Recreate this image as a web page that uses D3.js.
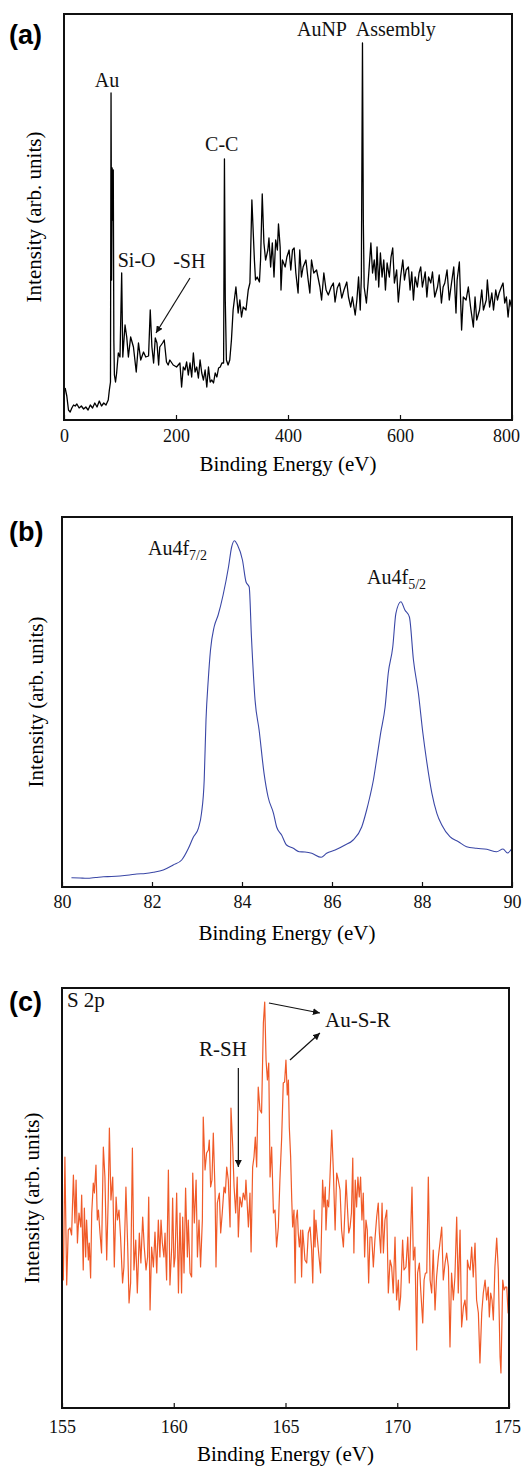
<!DOCTYPE html>
<html>
<head>
<meta charset="utf-8">
<script src="https://cdn.jsdelivr.net/npm/d3@7"></script>
<style>
  body { margin: 0; background: #fff; }
</style>
</head>
<body>
<svg id="chart" width="523" height="1467"></svg>
<script>
'use strict'

// (a) survey spectrum: [binding energy eV, intensity arb.]
const surveyData = [
  [2,32],[5,24],[8,10],[11,8],[14,12],[17,15],[20,14],[23,16],[27,12],[31,14],[35,11],[39,13],[43,10],[47,15],[51,12],[55,17],
  [59,13],[63,19],[67,14],[71,17],[75,15],[79,20],[81,30],[83,38],[84,327],[85,140],[86,252],[87,200],[88,250],[89,80],[90,45],
  [92,38],[94,47],[97,67],[100,63],[103,147],[105,63],[109,95],[112,83],[115,63],[119,83],[124,73],[129,48],[133,77],[137,60],
  [142,68],[146,63],[151,64],[154,110],[157,73],[160,57],[163,82],[166,77],[169,55],[171,73],[176,77],[179,80],[183,58],[186,55],
  [189,60],[195,55],[201,53],[207,57],[210,33],[213,53],[216,50],[219,58],[222,45],[225,57],[228,43],[231,67],[234,48],[237,53],
  [240,42],[243,60],[246,47],[249,40],[252,50],[255,33],[258,53],[261,38],[264,40],[267,37],[270,47],[273,43],[276,52],[279,53],
  [282,57],[285,57],[286.5,261],[288,120],[290,60],[293,55],[296,60],[299,80],[302,110],[307,133],[311,107],[314,120],[317,103],
  [320,113],[325,110],[329,130],[332,137],[335.5,220],[340,160],[342,140],[345,143],[349,138],[351,160],[354,226],[357,177],
  [360,160],[364,170],[366,182],[369,153],[372,177],[375,143],[378,180],[381,170],[383,196],[386,173],[387.5,130],[390,160],
  [395,153],[398,163],[402,170],[405,150],[408,170],[411,172],[414,147],[418,127],[421,170],[424,143],[427,153],[432,160],
  [436,140],[439,127],[442,160],[446,147],[451,150],[457,133],[460,120],[464,147],[468,130],[472,125],[477,133],[481,137],
  [484,118],[488,132],[492,137],[496,122],[500,130],[505,138],[508,123],[512,113],[515,123],[520,105],[523,120],[526,143],
  [529,110],[531,143],[533,377],[534.5,200],[536,133],[540,117],[543,137],[548,177],[551,147],[554,160],[557,140],[559,173],
  [562,133],[565,167],[568,143],[571,160],[574,130],[577,157],[581,143],[584,163],[587,172],[590,137],[594,150],[597,118],
  [601,143],[605,160],[608,140],[611,150],[615,153],[618,130],[621,148],[624,120],[627,143],[631,133],[634,147],[637,153],
  [640,133],[645,148],[648,123],[651,143],[655,137],[658,148],[662,123],[667,133],[670,145],[674,117],[677,133],[680,137],
  [684,150],[688,120],[692,137],[696,153],[700,107],[702,140],[706,158],[710,90],[713,123],[718,120],[722,133],[726,113],
  [731,93],[734,123],[737,100],[742,110],[746,130],[749,110],[754,120],[756,140],[760,113],[764,127],[767,110],[771,130],
  [774,120],[777,127],[781,133],[784,137],[787,117],[790,123],[793,103],[796,120],[799,113]
]

// (b) Au 4f region
const au4fData = [
  [80.21,9.3],[80.4,9],[80.55,8.7],[80.75,9.5],[80.92,10.3],[81.1,10.5],[81.29,11],[81.5,12],[81.66,13],[81.85,13.5],
  [82.03,14.7],[82.25,17],[82.47,22],[82.66,27],[82.81,38.7],[82.92,50],[83.03,58.7],[83.1,73.7],[83.16,107],[83.2,167],
  [83.25,207],[83.3,237],[83.38,260],[83.47,272],[83.58,292],[83.7,320],[83.77,340],[83.83,346.3],[83.9,342],[84.01,327],
  [84.09,305],[84.16,300],[84.21,250],[84.29,187],[84.38,157],[84.49,113.7],[84.58,90],[84.7,73.7],[84.77,60],[84.88,52],
  [84.99,42],[85.14,38.7],[85.27,35.3],[85.4,35],[85.55,33.7],[85.76,29.7],[85.88,33.7],[86.07,37],[86.29,42],[86.47,47],
  [86.66,60],[86.77,77],[86.84,90],[86.92,107],[86.99,127],[87.08,153.7],[87.18,180],[87.25,213.7],[87.35,240],[87.42,273.7],
  [87.53,285.3],[87.62,277],[87.72,270],[87.81,227],[87.92,193.7],[88.02,153.7],[88.1,127],[88.22,93.7],[88.33,73.7],
  [88.44,62],[88.62,50.3],[88.81,45.3],[88.99,40.3],[89.21,38.7],[89.44,37.7],[89.66,35.3],[89.8,38],[89.9,34],[90,38.7]
]

// (c) S 2p region
const s2pData = [
  [155.0,155],[155.06,128],[155.13,251],[155.21,123],[155.28,178],[155.36,180],[155.43,173],[155.51,233],[155.58,185],
  [155.63,228],[155.69,165],[155.76,195],[155.84,181],[155.88,213],[155.95,138],[156.0,200],[156.06,151],[156.1,188],
  [156.18,148],[156.22,165],[156.28,130],[156.33,195],[156.4,225],[156.45,215],[156.52,243],[156.58,188],[156.63,198],
  [156.7,175],[156.77,155],[156.85,261],[156.92,231],[157.0,148],[157.07,211],[157.12,280],[157.19,208],[157.27,231],
  [157.34,141],[157.42,211],[157.48,188],[157.55,198],[157.62,171],[157.71,125],[157.77,141],[157.86,221],[157.94,161],
  [158.0,105],[158.07,125],[158.15,260],[158.22,138],[158.3,168],[158.37,115],[158.46,175],[158.53,145],[158.61,191],
  [158.68,161],[158.76,138],[158.83,151],[158.88,211],[158.94,98],[159.01,161],[159.09,141],[159.16,176],[159.24,135],
  [159.31,188],[159.38,151],[159.43,188],[159.49,165],[159.56,151],[159.61,175],[159.68,128],[159.76,238],[159.83,123],
  [159.91,161],[159.95,210],[160.01,141],[160.06,151],[160.13,215],[160.21,115],[160.28,195],[160.35,115],[160.4,191],
  [160.46,135],[160.53,220],[160.61,151],[160.65,188],[160.73,135],[160.8,131],[160.85,235],[160.92,185],[161.0,228],
  [161.06,151],[161.13,188],[161.2,141],[161.28,188],[161.32,291],[161.4,238],[161.47,255],[161.55,258],[161.59,268],
  [161.65,221],[161.71,228],[161.77,275],[161.85,215],[161.89,141],[161.95,205],[162.04,215],[162.1,175],[162.17,195],
  [162.25,221],[162.31,215],[162.37,241],[162.44,228],[162.52,181],[162.56,300],[162.64,261],[162.7,221],[162.77,195],
  [162.84,231],[162.89,171],[162.96,211],[163.04,201],[163.11,215],[163.19,208],[163.23,228],[163.34,181],[163.41,215],
  [163.46,156],[163.53,241],[163.59,251],[163.65,271],[163.71,241],[163.78,321],[163.86,298],[163.93,295],[164.01,385],
  [164.07,406],[164.13,348],[164.19,328],[164.25,345],[164.31,231],[164.38,261],[164.46,195],[164.53,198],[164.6,161],
  [164.68,181],[164.75,228],[164.83,271],[164.9,325],[164.96,326],[165.02,348],[165.08,313],[165.13,328],[165.17,281],
  [165.23,251],[165.28,208],[165.32,181],[165.38,198],[165.43,125],[165.47,188],[165.53,198],[165.57,175],[165.62,161],
  [165.68,178],[165.72,131],[165.77,178],[165.83,161],[165.87,148],[165.95,145],[166.02,175],[166.1,181],[166.17,158],
  [166.22,125],[166.28,198],[166.32,161],[166.36,188],[166.42,171],[166.5,151],[166.57,135],[166.63,195],[166.66,228],
  [166.72,201],[166.78,221],[166.81,178],[166.87,208],[166.93,201],[166.99,231],[167.07,278],[167.14,238],[167.22,178],
  [167.29,235],[167.36,228],[167.44,218],[167.51,178],[167.59,161],[167.66,198],[167.71,228],[167.77,201],[167.83,175],
  [167.89,181],[167.95,195],[168.01,250],[168.06,155],[168.12,228],[168.18,201],[168.24,231],[168.3,211],[168.36,231],
  [168.42,188],[168.48,215],[168.54,151],[168.6,188],[168.66,178],[168.72,125],[168.78,171],[168.86,171],[168.93,141],
  [169.0,168],[169.08,191],[169.15,205],[169.2,175],[169.26,155],[169.32,205],[169.38,155],[169.45,188],[169.53,198],
  [169.6,115],[169.68,148],[169.75,141],[169.82,115],[169.9,171],[169.97,108],[170.05,128],[170.09,98],[170.15,111],
  [170.24,168],[170.3,138],[170.39,141],[170.47,171],[170.54,125],[170.6,175],[170.66,221],[170.72,148],[170.79,161],
  [170.87,58],[170.91,135],[170.99,145],[171.05,118],[171.14,85],[171.2,128],[171.26,135],[171.32,135],[171.39,231],
  [171.47,128],[171.54,115],[171.61,158],[171.69,98],[171.76,131],[171.84,151],[171.91,165],[171.99,181],[172.06,128],
  [172.14,145],[172.21,155],[172.29,141],[172.36,61],[172.43,135],[172.51,108],[172.58,131],[172.66,191],[172.73,115],
  [172.81,178],[172.88,81],[172.96,101],[173.03,108],[173.11,88],[173.14,148],[173.2,141],[173.26,138],[173.33,161],
  [173.4,131],[173.48,165],[173.55,108],[173.63,95],[173.7,45],[173.78,95],[173.85,115],[173.93,128],[174.0,108],
  [174.07,121],[174.12,91],[174.18,115],[174.24,108],[174.3,88],[174.37,141],[174.45,170],[174.52,138],[174.6,51],
  [174.64,35],[174.72,128],[174.78,118],[174.84,121],[174.9,121],[174.96,95],[175.0,105]
]

const surveyTicks = [0, 200, 400, 600, 800]
const au4fTicks = [80, 82, 84, 86, 88, 90]
const s2pTicks = [155, 160, 165, 170, 175]

const xTitle = 'Binding Energy (eV)'
const yTitle = 'Intensity (arb. units)'

const SERIF = "'Liberation Serif', 'Times New Roman', Times, serif"
const SANS = "'Liberation Sans', Arial, Helvetica, sans-serif"

const svg = d3.select('#chart')

svg.append('defs').append('marker')
  .attr('id', 'head')
  .attr('viewBox', '0 0 10 10')
  .attr('refX', 10)
  .attr('refY', 5)
  .attr('markerWidth', 7)
  .attr('markerHeight', 7)
  .attr('markerUnits', 'userSpaceOnUse')
  .attr('orient', 'auto')
  .append('path')
  .attr('d', 'M0,0L10,5L0,10z')
  .attr('fill', '#111')

function panel (p) {
  const x = d3.scaleLinear().domain(p.xDomain).range([p.left, p.right])
  const y = d3.scaleLinear().domain(p.yDomain).range([p.bottom, p.top])
  const g = svg.append('g').style('font-family', SERIF)

  g.append('path')
    .datum(p.data)
    .attr('fill', 'none')
    .attr('stroke', p.color)
    .attr('stroke-width', p.width)
    .attr('stroke-linejoin', 'round')
    .attr('d', d3.line().x(d => x(d[0])).y(d => y(d[1])).curve(p.curve || d3.curveLinear))

  const last = p.ticks[p.ticks.length - 1]
  g.append('g')
    .attr('transform', 'translate(0,' + p.bottom + ')')
    .call(d3.axisBottom(x).tickValues(p.ticks).tickSizeInner(-5).tickSizeOuter(0).tickPadding(p.pad))
    .attr('font-family', null)
    .style('font-family', SERIF)
    .call(a => a.select('.domain').remove())
    .call(a => a.selectAll('line').attr('stroke', '#111').attr('stroke-width', 1.2))
    .call(a => a.selectAll('text')
      .attr('font-size', 18)
      .attr('fill', '#111')
      .style('font-family', SERIF)
      .attr('dx', d => d === last ? p.lastShift : 0))

  g.append('rect')
    .attr('x', p.left)
    .attr('y', p.top)
    .attr('width', p.right - p.left)
    .attr('height', p.bottom - p.top)
    .attr('fill', 'none')
    .attr('stroke', '#111')
    .attr('stroke-width', 2)

  g.append('text')
    .attr('text-anchor', 'middle')
    .attr('font-size', 21)
    .style('font-family', SERIF)
    .attr('x', (p.left + p.right) / 2)
    .attr('y', p.bottom + p.xTitleGap)
    .text(xTitle)

  g.append('text')
    .attr('text-anchor', 'middle')
    .attr('font-size', 21)
    .style('font-family', SERIF)
    .attr('transform', 'translate(' + p.yTitleX + ',' + ((p.top + p.bottom) / 2) + ')rotate(-90)')
    .text(yTitle)

  g.append('text')
    .attr('font-size', 27)
    .attr('font-weight', 'bold')
    .style('font-family', SANS)
    .attr('x', 9)
    .attr('y', p.tagY)
    .text(p.tag)

  return { x, y, g }
}

function label (pn, e, v, txt, size, anchor) {
  return pn.g.append('text')
    .attr('x', pn.x(e))
    .attr('y', pn.y(v))
    .attr('font-size', size)
    .attr('fill', '#111')
    .style('font-family', SERIF)
    .attr('text-anchor', anchor || 'start')
    .text(txt)
}

function arrow (pn, e1, v1, e2, v2) {
  pn.g.append('line')
    .attr('x1', pn.x(e1)).attr('y1', pn.y(v1))
    .attr('x2', pn.x(e2)).attr('y2', pn.y(v2))
    .attr('stroke', '#111')
    .attr('stroke-width', 1.2)
    .attr('marker-end', 'url(#head)')
}

// (a)
const pa = panel({
  data: surveyData, xDomain: [0, 800], yDomain: [0, 406], ticks: surveyTicks,
  left: 64, right: 512, top: 14, bottom: 420, pad: 9, lastShift: -6, xTitleGap: 51, yTitleX: 41,
  color: '#000', width: 1.3, tag: '(a)', tagY: 44
})
label(pa, 55, 333, 'Au', 20)
label(pa, 252, 269, 'C-C', 20)
label(pa, 416, 384, 'AuNP\u00a0 Assembly', 20)
label(pa, 96, 153, 'Si-O', 20)
label(pa, 195, 152, '-SH', 20)
arrow(pa, 225, 142, 164.3, 87)

// (b)
const pb = panel({
  data: au4fData, xDomain: [80, 90], yDomain: [0, 370], ticks: au4fTicks,
  left: 62, right: 512, top: 517, bottom: 887, pad: 8, lastShift: 0, xTitleGap: 53, yTitleX: 43,
  color: '#3a47a6', width: 1.1, tag: '(b)', tagY: 541, curve: d3.curveMonotoneX
})
const t1 = label(pb, 81.91, 332, 'Au4f', 20)
t1.append('tspan').attr('font-size', 14).attr('dy', 5).text('7/2')
const t2 = label(pb, 86.78, 303, 'Au4f', 20)
t2.append('tspan').attr('font-size', 14).attr('dy', 5).text('5/2')

// (c)
const pc = panel({
  data: s2pData, xDomain: [155, 175], yDomain: [0, 420], ticks: s2pTicks,
  left: 62, right: 509, top: 988, bottom: 1408, pad: 12, lastShift: -2, xTitleGap: 53, yTitleX: 39,
  color: '#f05a28', width: 1.2, tag: '(c)', tagY: 1011
})
label(pc, 155.22, 401, 'S 2p', 21)
label(pc, 166.77, 381, 'Au-S-R', 21)
label(pc, 162.2, 352, 'R-SH', 21, 'middle')
arrow(pc, 162.89, 340, 162.89, 241)
arrow(pc, 164.26, 405, 166.54, 395)
arrow(pc, 165.2, 348, 166.54, 375)
</script>
</body>
</html>
